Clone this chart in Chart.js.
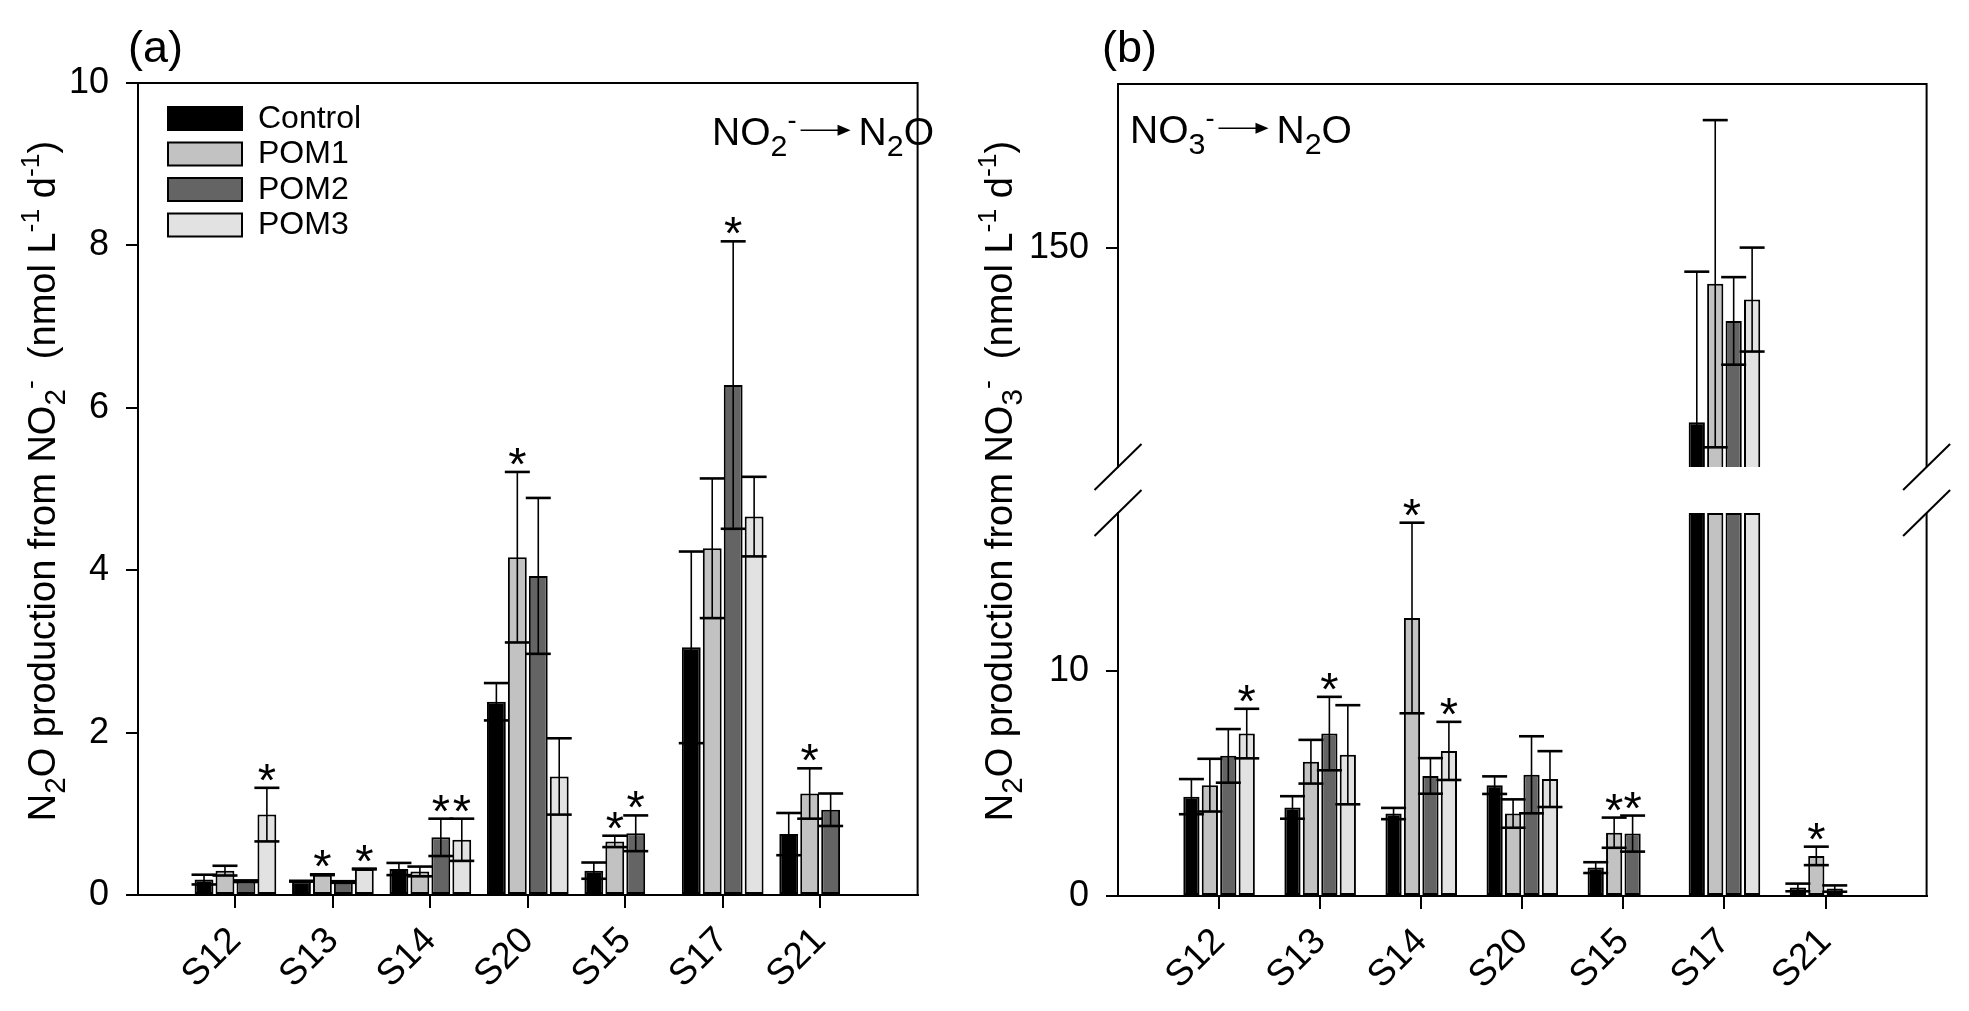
<!DOCTYPE html>
<html><head><meta charset="utf-8">
<script src="https://cdn.jsdelivr.net/npm/chart.js@4.4.1/dist/chart.umd.min.js"></script>
<style>
html,body{margin:0;padding:0;background:#fff;width:1969px;height:1011px;overflow:hidden}
canvas{position:absolute;top:0}
#ca{left:0}
#cb{left:960px}
</style></head><body>
<canvas id="ca" width="960" height="1011"></canvas>
<canvas id="cb" width="1009" height="1011"></canvas>
<script>
// ---------------- data ----------------
const categories = ['S12','S13','S14','S20','S15','S17','S21'];
const seriesNames = ['Control','POM1','POM2','POM3'];
const seriesColors = ['#000000','#c2c2c2','#646464','#e2e2e2'];

// panel (a): NO2- -> N2O
const aControl   = [0.19, 0.17, 0.32, 2.38, 0.30, 3.05, 0.75];
const aControlSE = [0.06, 0.005, 0.075, 0.23, 0.10, 1.18, 0.26];
const aPOM1      = [0.30, 0.25, 0.29, 4.16, 0.66, 4.27, 1.25];
const aPOM1SE    = [0.06, 0.005, 0.06, 1.05, 0.07, 0.86, 0.31];
const aPOM2      = [0.17, 0.16, 0.71, 3.93, 0.76, 6.28, 1.05];
const aPOM2SE    = [0.01, 0.01, 0.23, 0.96, 0.22, 1.77, 0.20];
const aPOM3      = [0.99, 0.32, 0.68, 1.46, null, 4.66, null];
const aPOM3SE    = [0.33, 0.005, 0.26, 0.47, null, 0.49, null];
const aSigControl = [];
const aSigPOM1 = ['S13','S20','S15','S21'];
const aSigPOM2 = ['S14','S15','S17'];
const aSigPOM3 = ['S12','S13','S14'];
const aTicks = [0,2,4,6,8,10];
const aMin = 0, aMax = 10;

// panel (b): NO3- -> N2O (broken axis)
const bControl   = [4.41, 3.93, 3.66, 4.92, 1.26, 118.2, 0.38];
const bControlSE = [0.78, 0.50, 0.25, 0.39, 0.24, 27.5, 0.17];
const bPOM1      = [4.92, 5.96, 12.34, 3.66, 2.81, 143.5, 1.78];
const bPOM1SE    = [1.17, 0.97, 4.23, 0.63, 0.67, 29.9, 0.41];
const bPOM2      = [6.22, 7.21, 5.33, 5.38, 2.77, 136.7, 0.33];
const bPOM2SE    = [1.19, 1.63, 0.79, 1.71, 0.80, 8.0, 0.14];
const bPOM3      = [7.21, 6.27, 6.44, 5.19, null, 140.6, null];
const bPOM3SE    = [1.10, 2.20, 1.29, 1.24, null, 9.5, null];
const bSigControl = [];
const bSigPOM1 = ['S14','S15','S21'];
const bSigPOM2 = ['S13','S15'];
const bSigPOM3 = ['S12','S14'];
const bLowTicks = [0,10];
const bHighTicks = [150];
const bLowMax = 17;
const bHighMin = 110, bHighMax = 180;

// ---------------- helpers ----------------
const FONT = "'Liberation Sans', Arial, Helvetica, sans-serif";
const padLabels = ['', ...categories, ''];
const pad = arr => [null, ...arr, null];
const sigFlags = list => pad(categories.map(c => list.includes(c)));

function drawRich(ctx, segs, x, y, align, rot, base) {
  ctx.save();
  ctx.translate(x, y);
  ctx.rotate(rot || 0);
  ctx.fillStyle = '#000'; ctx.strokeStyle = '#000';
  ctx.textBaseline = 'alphabetic'; ctx.textAlign = 'left';
  const items = []; let cx = 0;
  for (const s of segs) {
    const size = s.k === 'sub' ? base * 0.78 : s.k === 'sup' ? base * 0.7 : base;
    let w;
    if (s.k === 'arrow' || s.k === 'gap') w = s.len;
    else { ctx.font = size + 'px ' + FONT; w = ctx.measureText(s.t).width; }
    items.push({s, size, sx: cx, w});
    cx += w;
  }
  const off = align === 'center' ? -cx / 2 : align === 'right' ? -cx : 0;
  for (const it of items) {
    const {s, size, sx, w} = it;
    if (s.k === 'gap') continue;
    if (s.k === 'arrow') {
      const ay = -base * 0.38;
      const x0 = off + sx, x1 = off + sx + w;
      ctx.lineWidth = 1.6;
      ctx.beginPath(); ctx.moveTo(x0, ay); ctx.lineTo(x1 - 10, ay); ctx.stroke();
      ctx.beginPath(); ctx.moveTo(x1, ay); ctx.lineTo(x1 - 13, ay - 5.5); ctx.lineTo(x1 - 13, ay + 5.5); ctx.closePath(); ctx.fill();
      continue;
    }
    ctx.font = size + 'px ' + FONT;
    const dy = s.k === 'sub' ? base * 0.27 : s.k === 'sup' ? -base * 0.42 : 0;
    ctx.fillText(s.t, off + sx, dy);
  }
  ctx.restore();
}
const M = t => ({k:'m', t}), SUB = t => ({k:'sub', t}), SUP = t => ({k:'sup', t});
const ARROW = len => ({k:'arrow', len}), GAP = len => ({k:'gap', len});

function line(ctx, x0, y0, x1, y1) { ctx.beginPath(); ctx.moveTo(x0, y0); ctx.lineTo(x1, y1); ctx.stroke(); }

const CAP = 25;
const errorPlugin = {
  id: 'errbars',
  afterDatasetsDraw(chart) {
    const ctx = chart.ctx;
    ctx.save();
    ctx.strokeStyle = '#000'; ctx.fillStyle = '#000';
    chart.data.datasets.forEach((ds, di) => {
      const meta = chart.getDatasetMeta(di);
      const ys = chart.scales[meta.yAxisID];
      meta.data.forEach((el, j) => {
        if (ds.data[j] == null) return;
        const full = ds.errVal[j], se = ds.errSE[j];
        if (full == null || se == null) return;
        const hi = full + se, lo = full - se;
        const mn = ys.min, mx = ys.max;
        if (lo > mx || hi < mn) return;
        const yHi = ys.getPixelForValue(Math.min(hi, mx));
        const yLo = ys.getPixelForValue(Math.max(lo, mn));
        const x = el.x;
        ctx.lineWidth = 1.6;
        line(ctx, x, yHi, x, yLo);
        ctx.lineWidth = 2.6;
        if (hi <= mx) line(ctx, x - CAP / 2, yHi, x + CAP / 2, yHi);
        if (lo >= mn) line(ctx, x - CAP / 2, yLo, x + CAP / 2, yLo);
        if (ds.sig && ds.sig[j] && hi <= mx) {
          ctx.font = '47px ' + FONT;
          ctx.textAlign = 'center'; ctx.textBaseline = 'alphabetic';
          ctx.fillText('*', x, yHi + 8);
        }
      });
    });
    ctx.restore();
  }
};

function xScale(fitHeight) {
  return {
    type: 'category', offset: false,
    grid: {offset: false, drawOnChartArea: false, drawTicks: true, tickLength: 13, lineWidth: 2,
      color: c => (c.index === 0 || c.index === padLabels.length - 1) ? 'rgba(0,0,0,0)' : '#000'},
    border: {display: true, color: '#000', width: 2},
    ticks: {autoSkip: false, maxRotation: 45, minRotation: 45, font: {family: FONT, size: 37}, color: '#000', padding: 11},
    afterFit: s => { s.height = fitHeight; }
  };
}
function yCommon(width) {
  return {
    ticks: {font: {family: FONT, size: 36}, color: '#000', padding: 17},
    grid: {drawOnChartArea: false, drawTicks: true, tickLength: 12, lineWidth: 2, color: '#000'},
    border: {display: true, color: '#000', width: 2},
    afterFit: s => { s.width = width; }
  };
}

// ---------------- panel (a) ----------------
const aVals = [aControl, aPOM1, aPOM2, aPOM3];
const aSE = [aControlSE, aPOM1SE, aPOM2SE, aPOM3SE];
const aSig = [aSigControl, aSigPOM1, aSigPOM2, aSigPOM3];

const framePluginA = {
  id: 'frameA',
  afterDraw(chart) {
    const ctx = chart.ctx, ca = chart.chartArea;
    ctx.save();
    ctx.strokeStyle = '#000'; ctx.lineWidth = 2;
    ctx.beginPath(); ctx.moveTo(ca.left, ca.top); ctx.lineTo(ca.right, ca.top); ctx.lineTo(ca.right, ca.bottom); ctx.stroke();
    // legend
    ctx.font = '32px ' + FONT; ctx.textBaseline = 'middle'; ctx.textAlign = 'left';
    seriesNames.forEach((n, i) => {
      const y = 107 + i * 35.5;
      ctx.fillStyle = seriesColors[i];
      ctx.fillRect(168, y, 74, 23);
      ctx.lineWidth = 2; ctx.strokeStyle = '#000';
      ctx.strokeRect(168, y, 74, 23);
      ctx.fillStyle = '#000';
      ctx.fillText(n, 258, y + 12);
    });
    ctx.restore();
    drawRich(ctx, [M('NO'), SUB('2'), SUP('-'), GAP(4), ARROW(50), GAP(8), M('N'), SUB('2'), M('O')], 934, 145, 'right', 0, 39);
    drawRich(ctx, [M('(a)')], 128, 62, 'left', 0, 45);
    drawRich(ctx, [M('N'), SUB('2'), M('O production from NO'), SUB('2'), SUP('-'), M('  (nmol L'), SUP('-1'), M(' d'), SUP('-1'), M(')')],
      55, 481, 'center', -Math.PI / 2, 38);
  }
};

new Chart(document.getElementById('ca'), {
  type: 'bar',
  data: {
    labels: padLabels,
    datasets: seriesNames.map((n, i) => ({
      label: n, data: pad(aVals[i]), errVal: pad(aVals[i]), errSE: pad(aSE[i]), sig: sigFlags(aSig[i]),
      backgroundColor: seriesColors[i], borderColor: '#000', borderWidth: 2, borderSkipped: false,
      categoryPercentage: 0.86, barPercentage: 0.9
    }))
  },
  options: {
    responsive: false, animation: false,
    layout: {padding: {top: 83, right: 12, left: 0, bottom: 0}},
    plugins: {legend: {display: false}, tooltip: {enabled: false}},
    scales: {
      x: xScale(116),
      y: Object.assign(yCommon(138), {min: aMin, max: aMax, afterBuildTicks: s => { s.ticks = aTicks.map(v => ({value: v})); }})
    }
  },
  plugins: [errorPlugin, framePluginA]
});

// ---------------- panel (b) ----------------
const bVals = [bControl, bPOM1, bPOM2, bPOM3];
const bSE = [bControlSE, bPOM1SE, bPOM2SE, bPOM3SE];
const bSig = [bSigControl, bSigPOM1, bSigPOM2, bSigPOM3];

const lowSets = seriesNames.map((n, i) => ({
  label: n, yAxisID: 'yLow', stack: 'c' + i,
  data: pad(bVals[i].map(v => v == null ? null : Math.min(v, bLowMax))),
  errVal: pad(bVals[i]), errSE: pad(bSE[i]), sig: sigFlags(bSig[i]),
  backgroundColor: seriesColors[i], borderColor: '#000', borderWidth: 2, borderSkipped: false,
  categoryPercentage: 0.73, barPercentage: 0.88
}));
const highSets = seriesNames.map((n, i) => ({
  label: n + ' (upper)', yAxisID: 'yHigh', stack: 'c' + i,
  data: pad(bVals[i].map(v => (v != null && v > bHighMin) ? v : null)),
  errVal: pad(bVals[i]), errSE: pad(bSE[i]),
  backgroundColor: seriesColors[i], borderColor: '#000', borderWidth: 2, borderSkipped: false,
  categoryPercentage: 0.73, barPercentage: 0.88
}));

const framePluginB = {
  id: 'frameB',
  afterDraw(chart) {
    const ctx = chart.ctx, ca = chart.chartArea;
    const gTop = chart.scales.yHigh.bottom, gBot = chart.scales.yLow.top;
    ctx.save();
    ctx.strokeStyle = '#000'; ctx.lineWidth = 2;
    ctx.beginPath(); ctx.moveTo(ca.left, ca.top); ctx.lineTo(ca.right, ca.top); ctx.lineTo(ca.right, gTop); ctx.stroke();
    line(ctx, ca.right, gBot, ca.right, ca.bottom);
    for (const xx of [ca.left, ca.right]) {
      for (const yy of [gTop, gBot]) line(ctx, xx - 23.5, yy + 23, xx + 23.5, yy - 23);
    }
    ctx.restore();
    drawRich(ctx, [M('NO'), SUB('3'), SUP('-'), GAP(4), ARROW(50), GAP(8), M('N'), SUB('2'), M('O')], 170, 143, 'left', 0, 39);
    drawRich(ctx, [M('(b)')], 142, 62, 'left', 0, 45);
    drawRich(ctx, [M('N'), SUB('2'), M('O production from NO'), SUB('3'), SUP('-'), M('  (nmol L'), SUP('-1'), M(' d'), SUP('-1'), M(')')],
      52, 481, 'center', -Math.PI / 2, 38);
  }
};

new Chart(document.getElementById('cb'), {
  type: 'bar',
  data: {labels: padLabels, datasets: [...lowSets, ...highSets]},
  options: {
    responsive: false, animation: false,
    layout: {padding: {top: 84, right: 42, left: 0, bottom: 0}},
    plugins: {legend: {display: false}, tooltip: {enabled: false}},
    scales: {
      x: xScale(115),
      yLow: Object.assign(yCommon(158), {type: 'linear', position: 'left', stack: 'b', stackWeight: 383, stacked: false,
        min: 0, max: bLowMax, afterBuildTicks: s => { s.ticks = bLowTicks.map(v => ({value: v})); }}),
      yGap: {type: 'linear', position: 'left', stack: 'b', stackWeight: 46, min: 0, max: 1,
        ticks: {display: false}, grid: {display: false}, border: {display: false}, afterFit: s => { s.width = 158; }},
      yHigh: Object.assign(yCommon(158), {type: 'linear', position: 'left', stack: 'b', stackWeight: 383, stacked: false,
        min: bHighMin, max: bHighMax, afterBuildTicks: s => { s.ticks = bHighTicks.map(v => ({value: v})); }})
    }
  },
  plugins: [errorPlugin, framePluginB]
});
</script>
</body></html>
